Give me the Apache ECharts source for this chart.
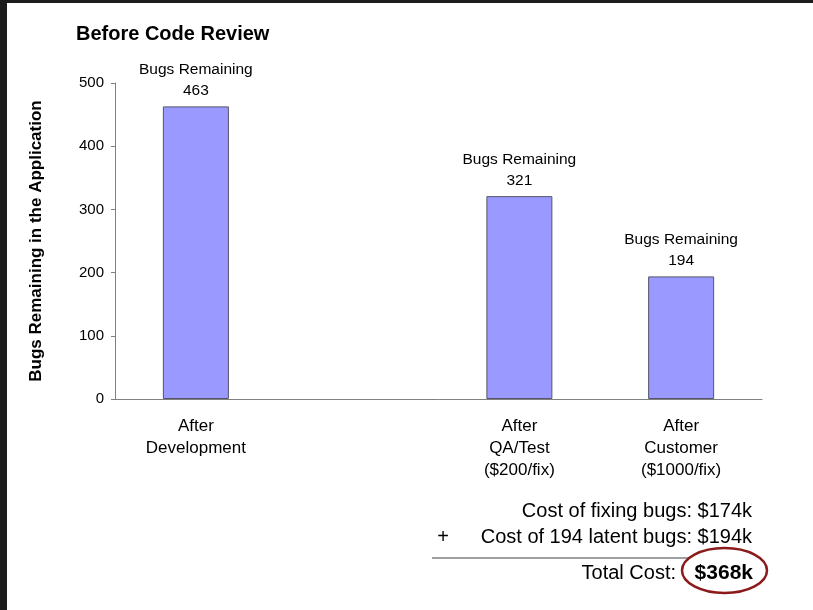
<!DOCTYPE html>
<html>
<head>
<meta charset="utf-8">
<script src="https://cdn.jsdelivr.net/npm/echarts@6/dist/echarts.min.js"></script>
<style>
html,body{margin:0;padding:0;background:#fff;}
#c{width:813px;height:610px;}
</style>
</head>
<body>
<div id="c"></div>
<script>
const categories = ['After\nDevelopment', '', 'After\nQA/Test\n($200/fix)', 'After\nCustomer\n($1000/fix)'];
const bugsRemaining = [463, null, 321, 194];
const yTicks = [0, 100, 200, 300, 400, 500];
const titleText = 'Before Code Review';
const yAxisTitle = 'Bugs Remaining in the Application';
const barLabelPrefix = 'Bugs Remaining';
const costFixing = '$174k';
const latentBugs = 194;
const costLatent = '$194k';
const totalCost = '$368k';

const FONT = '"Liberation Sans", Arial, Helvetica, sans-serif';
const chart = echarts.init(document.getElementById('c'), null, {renderer: 'canvas'});
chart.setOption({
  backgroundColor: '#ffffff',
  animation: false,
  title: {
    text: titleText, left: 71, top: 19,
    textStyle: {fontFamily: FONT, fontSize: 20, fontWeight: 'bold', color: '#000'}
  },
  grid: {left: 115, right: 51, top: 83, bottom: 211, containLabel: false},
  xAxis: {
    type: 'category', data: categories,
    axisLine: {show: true, lineStyle: {color: '#808080', width: 1}},
    axisTick: {show: false},
    axisLabel: {fontFamily: FONT, fontSize: 17, color: '#000', lineHeight: 22, margin: 16, interval: 0}
  },
  yAxis: {
    type: 'value', min: yTicks[0], max: yTicks[yTicks.length - 1], interval: 100,
    name: yAxisTitle, nameLocation: 'middle', nameRotate: 90, nameGap: 70,
    nameTextStyle: {fontFamily: FONT, fontSize: 17, fontWeight: 'bold', color: '#000'},
    axisLine: {show: true, lineStyle: {color: '#808080', width: 1}},
    axisTick: {show: true, inside: false, length: 4, lineStyle: {color: '#808080'}},
    axisLabel: {fontFamily: FONT, fontSize: 15, color: '#000', margin: 11},
    splitLine: {show: false}
  },
  series: [{
    type: 'bar', data: bugsRemaining, barWidth: 66,
    itemStyle: {color: '#9999ff', borderColor: '#555566', borderWidth: 1},
    label: {
      show: true, position: 'top', distance: 5,
      formatter: p => barLabelPrefix + '\n' + p.value,
      fontFamily: FONT, fontSize: 15.5, color: '#000', lineHeight: 21
    }
  }],
  graphic: [
    {type: 'rect', shape: {x: 0, y: 0, width: 813, height: 3}, style: {fill: '#1c1c1c'}, z: 100},
    {type: 'rect', shape: {x: 0, y: 0, width: 7, height: 610}, style: {fill: '#1c1c1c'}, z: 100},
    {type: 'text', x: 752, y: 511, style: {text: 'Cost of fixing bugs: ' + costFixing, fontFamily: FONT, fontSize: 20, fill: '#000', textAlign: 'right', textVerticalAlign: 'middle'}},
    {type: 'text', x: 443, y: 537, style: {text: '+', fontFamily: FONT, fontSize: 20, fill: '#000', textAlign: 'center', textVerticalAlign: 'middle'}},
    {type: 'text', x: 752, y: 537, style: {text: 'Cost of ' + latentBugs + ' latent bugs: ' + costLatent, fontFamily: FONT, fontSize: 20, fill: '#000', textAlign: 'right', textVerticalAlign: 'middle'}},
    {type: 'line', shape: {x1: 432, y1: 558, x2: 752, y2: 558}, style: {stroke: '#404040', lineWidth: 1}, z: 10},
    {type: 'ellipse', shape: {cx: 724.5, cy: 570.5, rx: 42.5, ry: 22.5}, style: {fill: '#ffffff', stroke: '#8b1a1a', lineWidth: 2.5}, z: 20},
    {type: 'text', x: 676, y: 573, style: {text: 'Total Cost:', fontFamily: FONT, fontSize: 20, fill: '#000', textAlign: 'right', textVerticalAlign: 'middle'}, z: 30},
    {type: 'text', x: 753, y: 573, style: {text: totalCost, fontFamily: FONT, fontSize: 21, fontWeight: 'bold', fill: '#000', textAlign: 'right', textVerticalAlign: 'middle'}, z: 30}
  ]
});
</script>
</body>
</html>
